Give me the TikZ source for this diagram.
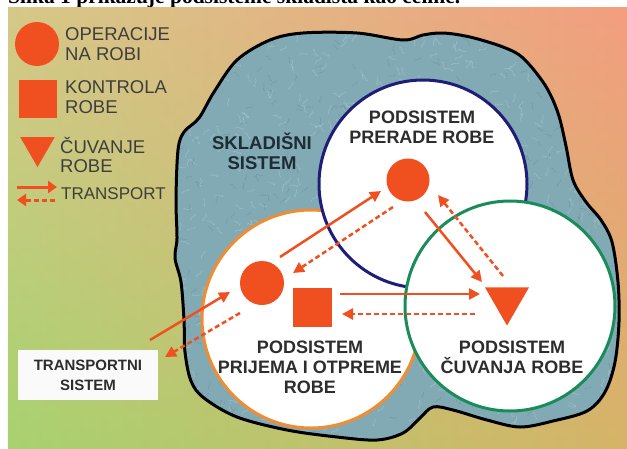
\documentclass[tikz,border=0pt]{standalone}
\usepackage{fontspec}
\setmainfont{Liberation Sans}
\newfontfamily\captionserif{Liberation Serif}
\usetikzlibrary{arrows.meta,shapes.geometric,calc,fadings}

\definecolor{goods}{RGB}{240,80,32}
\definecolor{leggray}{RGB}{62,62,62}
\definecolor{labelgray}{RGB}{45,45,45}
\definecolor{slatetext}{RGB}{30,44,52}
\definecolor{blobfill}{RGB}{130,170,181}
\definecolor{ringorange}{RGB}{240,140,50}
\definecolor{ringblue}{RGB}{30,30,120}
\definecolor{ringgreen}{RGB}{26,140,90}
\definecolor{bgTL}{RGB}{214,201,136}
\definecolor{bgTR}{RGB}{243,158,128}
\definecolor{bgBL}{RGB}{168,210,112}
\definecolor{bgBR}{RGB}{214,180,104}

\newcommand{\warehouseoutline}{
  plot[smooth cycle, tension=0.55] coordinates {
    (178,150) (176,200) (177,238) (175,258) (181,282) (184,320) (185,352)
    (191,381) (204,398) (237,417) (287,430) (337,437) (377,440) (403,433)
    (420,418) (433,407) (453,410) (487,420) (520,427) (553,421) (587,411)
    (605,392) (615,362) (619,322) (618,282) (612,242) (601,220) (586,202)
    (573,180) (566,146) (558,113) (545,85) (523,58) (503,47) (470,37)
    (443,33) (423,35) (403,40) (357,33) (303,33) (270,40) (237,60)
    (214,92) (199,118) (184,132)}}

\tikzset{
  opnode/.style={
    circle,
    fill=goods,
    minimum size=44pt,
    inner sep=0pt
  },
  ctrlnode/.style={
    rectangle,
    fill=goods,
    minimum size=39pt,
    inner sep=0pt
  },
  storenode/.style={
    regular polygon,
    regular polygon sides=3,
    shape border rotate=180,
    fill=goods,
    minimum size=51pt,
    inner sep=0pt
  },
  subsys/.style={
    circle,
    draw,
    fill=white,
    line width=3pt,
    inner sep=0pt
  },
  sublabel/.style={
    align=center,
    inner sep=0pt,
    text=labelgray,
    font=\fontsize{18}{20}\selectfont\bfseries
  },
  legtext/.style={
    anchor=west,
    align=left,
    inner sep=0pt,
    text=leggray,
    font=\fontsize{18.5}{20}\selectfont
  },
  flowarc/.style={
    -{Triangle[length=11pt,width=11pt]},
    line width=2.5pt,
    draw=goods
  },
  backarc/.style={
    flowarc,
    dash pattern=on 5pt off 3pt
  }
}

\begin{document}
\begin{tikzpicture}[x=1pt,y=-1pt]
  \useasboundingbox (0,0) rectangle (627,448);
  \clip (0,0) rectangle (627,448);

  % page text cut by the scan
  \node[anchor=base west,inner sep=0pt,font=\captionserif\bfseries\fontsize{21.5}{21.5}\selectfont] (caption) at (8,3.5) {Slika 1 prikazuje podsisteme skladišta kao celine.};

  % background
  \shade[left color=bgTL, right color=bgTR] (8,7) rectangle (627,448);
  \shade[left color=bgBL, right color=bgBR, path fading=north] (8,7) rectangle (627,448);

  % warehouse system
  \fill[blobfill] \warehouseoutline;
  \begin{scope}
    \clip \warehouseoutline;
    \pgfmathsetseed{11}
    \foreach \i in {1,...,700} {
      \pgfmathsetmacro{\px}{175+445*rnd}
      \pgfmathsetmacro{\py}{30+412*rnd}
      \pgfmathsetmacro{\ang}{360*rnd}
      \draw[white, opacity=0.2, line width=0.6pt]
        (\px,\py) .. controls +(\ang:5) and +(\ang+120:5) .. +(\ang+40:8);
    }
    \foreach \i in {1,...,450} {
      \pgfmathsetmacro{\px}{175+445*rnd}
      \pgfmathsetmacro{\py}{30+412*rnd}
      \pgfmathsetmacro{\ang}{360*rnd}
      \draw[slatetext, opacity=0.14, line width=0.5pt]
        (\px,\py) .. controls +(\ang:4) and +(\ang+140:4) .. +(\ang+30:7);
    }
  \end{scope}
  \draw[line width=3pt, line join=round] \warehouseoutline;
  \node[align=center, inner sep=0pt, text=slatetext, font=\fontsize{18.5}{20}\selectfont\bfseries] (skladiste) at (262,151) {SKLADIŠNI\\SISTEM};

  % subsystems
  \node[subsys, draw=ringorange, minimum size=218pt] (prijem) at (311,319) {};
  \node[subsys, draw=ringblue, minimum size=208pt] (prerada) at (423,184) {};
  \node[subsys, draw=ringgreen, minimum size=210pt] (cuvanje) at (510,306) {};

  \node[sublabel] (preradaText) at (422,127) {PODSISTEM\\PRERADE ROBE};
  \node[sublabel] (prijemText) at (310,367) {PODSISTEM\\PRIJEMA I OTPREME\\ROBE};
  \node[sublabel] (cuvanjeText) at (512,357) {PODSISTEM\\ČUVANJA ROBE};

  % goods
  \node[opnode] (opA) at (262,283) {};
  \node[opnode, minimum size=43pt] (opB) at (408,180) {};
  \node[ctrlnode] (ctrl) at (312,307) {};
  \node[storenode] (store) at (507,300) {};

  \node[fill=white!96!gray, minimum width=140pt, minimum height=50pt, align=center, inner sep=0pt,
        text=labelgray, font=\fontsize{15}{20}\selectfont\bfseries] (transport) at (88,375) {TRANSPORTNI\\SISTEM};

  % transport between subsystems
  \draw[flowarc] ($(opA)+(18,-26)$) -- ($(opB)+(-27,11)$);
  \draw[backarc] ($(opB)+(-15,27)$) -- ($(opA)+(31,-10)$);
  \draw[flowarc] ($(opB)+(17,32)$) -- ($(store)+(-25,-18)$);
  \draw[backarc] ($(store)+(-4,-24)$) -- ($(opB)+(30,15)$);
  \draw[flowarc] ($(ctrl)+(28,-13)$) -- ($(store)+(-27,-6)$);
  \draw[backarc] ($(store)+(-32,14)$) -- ($(ctrl)+(30,7)$);
  \draw[flowarc] ($(transport)+(62,-35)$) -- ($(opA)+(-32,9)$);
  \draw[backarc] ($(opA)+(-22,30)$) -- ($(transport)+(77,-18)$);

  % Legend
  \node[opnode] (legOp) at (37,44) {};
  \node[ctrlnode, minimum size=38pt] (legCtrl) at (38,99) {};
  \node[storenode, minimum size=40pt] (legStore) at (37.5,147) {};
  \node[legtext] (legOpText) at (65,44) {OPERACIJE\\NA ROBI};
  \node[legtext] (legCtrlText) at (65,97) {KONTROLA\\ROBE};
  \node[legtext] (legStoreText) at (60,155) {ČUVANJE\\ROBE};
  \node[legtext, font=\fontsize{17}{20}\selectfont] (legFlowText) at (61,194) {TRANSPORT};
  \coordinate (legFlowA) at (17,187);
  \coordinate (legFlowB) at (57,187);
  \coordinate (legBackA) at (55,200);
  \coordinate (legBackB) at (17,200);
  \draw[flowarc, line width=3pt, -{Triangle[length=9pt,width=12pt]}] (legFlowA) -- (legFlowB);
  \draw[backarc, line width=3pt, -{Triangle[length=9pt,width=12pt]}] (legBackA) -- (legBackB);
\end{tikzpicture}
\end{document}
